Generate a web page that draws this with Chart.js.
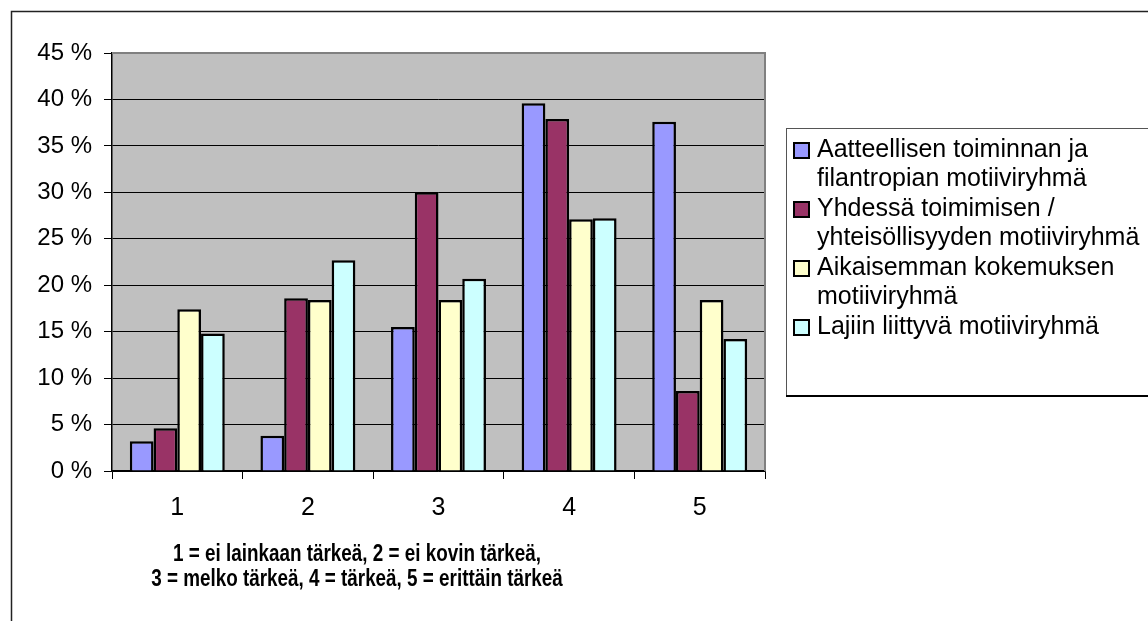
<!DOCTYPE html>
<html>
<head>
<meta charset="utf-8">
<script src="https://cdn.jsdelivr.net/npm/chart.js@4/dist/chart.umd.min.js"></script>
<style>
  html, body { margin: 0; padding: 0; background: #fff; }
  #wrap { width: 1148px; height: 621px; }
</style>
</head>
<body>
<div id="wrap"><canvas id="motiiviChart" width="1148" height="621"></canvas></div>
<script>
// data (percent)
const luokat = ['1', '2', '3', '4', '5'];
const aatteellinen = [3.2, 3.8, 15.5, 39.6, 37.6];
const yhdessa = [4.6, 18.6, 30.0, 37.9, 8.6];
const aikaisempi = [17.4, 18.4, 18.4, 27.1, 18.4];
const lajiin = [14.8, 22.7, 20.7, 27.2, 14.2];
const sarjaNimet = [
    ['Aatteellisen toiminnan ja', 'filantropian motiiviryhmä'],
    ['Yhdessä toimimisen /', 'yhteisöllisyyden motiiviryhmä'],
    ['Aikaisemman kokemuksen', 'motiiviryhmä'],
    ['Lajiin liittyvä motiiviryhmä']
];
const akseliOtsikko = ['1 = ei lainkaan tärkeä, 2 = ei kovin tärkeä,', '3 = melko tärkeä, 4 = tärkeä, 5 = erittäin tärkeä'];

const fontti = '"Liberation Sans", Arial, sans-serif';

// gray plot background + outer frame
const tausta = {
    id: 'tausta',
    beforeDraw(chart) {
        const { ctx, chartArea: a } = chart;
        ctx.save();
        ctx.fillStyle = '#fff';
        ctx.fillRect(0, 0, chart.width, chart.height);
        ctx.strokeStyle = '#222';
        ctx.lineWidth = 1.5;
        ctx.beginPath();
        ctx.moveTo(11.5, chart.height + 5);
        ctx.lineTo(11.5, 11.5);
        ctx.lineTo(chart.width + 5, 11.5);
        ctx.stroke();
        ctx.fillStyle = '#c0c0c0';
        ctx.fillRect(a.left, a.top, a.right - a.left, a.bottom - a.top);
        ctx.restore();
    },
    afterDatasetsDraw(chart) {
        const { ctx, chartArea: a } = chart;
        ctx.save();
        ctx.strokeStyle = '#808080';
        ctx.lineWidth = 2;
        ctx.beginPath();
        ctx.moveTo(a.left, a.top);
        ctx.lineTo(a.right, a.top);
        ctx.lineTo(a.right, a.bottom);
        ctx.stroke();
        ctx.restore();
    }
};

// legend box with wrapped labels and axis title
const selite = {
    id: 'selite',
    afterDraw(chart) {
        const { ctx } = chart;
        ctx.save();
        ctx.strokeStyle = '#555';
        ctx.lineWidth = 1;
        ctx.strokeRect(786.5, 128.5, 400, 267);
        ctx.strokeStyle = '#000';
        ctx.lineWidth = 2;
        ctx.beginPath();
        ctx.moveTo(786, 396);
        ctx.lineTo(chart.width + 5, 396);
        ctx.stroke();

        ctx.font = '25px ' + fontti;
        ctx.textBaseline = 'middle';
        let y = 150;
        chart.data.datasets.forEach((ds, i) => {
            ctx.fillStyle = ds.backgroundColor;
            ctx.fillRect(794, y - 7, 15, 15);
            ctx.strokeStyle = '#000';
            ctx.lineWidth = 2;
            ctx.strokeRect(794, y - 7, 15, 15);
            ctx.fillStyle = '#000';
            sarjaNimet[i].forEach((rivi, j) => {
                ctx.fillText(rivi, 817, y + j * 29);
            });
            y += sarjaNimet[i].length * 29 + 1;
        });

        // narrow bold title under the x axis
        ctx.font = 'bold 24px ' + fontti;
        const kapeus = 368 / ctx.measureText(akseliOtsikko[0]).width;
        ctx.textAlign = 'center';
        akseliOtsikko.forEach((rivi, j) => {
            ctx.save();
            ctx.translate(357, 554 + j * 25);
            ctx.scale(kapeus, 1);
            ctx.fillText(rivi, 0, 0);
            ctx.restore();
        });
        ctx.restore();
    }
};

const data = {
    labels: luokat,
    datasets: [
        { label: sarjaNimet[0].join(' '), data: aatteellinen, backgroundColor: '#9999ff' },
        { label: sarjaNimet[1].join(' '), data: yhdessa, backgroundColor: '#993366' },
        { label: sarjaNimet[2].join(' '), data: aikaisempi, backgroundColor: '#ffffcc' },
        { label: sarjaNimet[3].join(' '), data: lajiin, backgroundColor: '#ccffff' }
    ].map(ds => Object.assign(ds, {
        borderColor: '#000',
        borderWidth: 2.5,
        borderSkipped: 'start',
        categoryPercentage: 0.727,
        barPercentage: 1
    }))
};

const config = {
    type: 'bar',
    data: data,
    options: {
        responsive: false,
        animation: false,
        layout: { padding: { left: 0, top: 53, right: 383, bottom: 0 } },
        plugins: {
            legend: { display: false },
            tooltip: { enabled: false }
        },
        scales: {
            x: {
                afterFit(scale) { scale.height = 150; },
                grid: {
                    offset: true,
                    drawOnChartArea: false,
                    drawTicks: true,
                    tickLength: 8,
                    tickColor: '#000'
                },
                border: { color: '#000', width: 1.5 },
                ticks: {
                    padding: 14,
                    color: '#000',
                    font: { family: fontti, size: 25 }
                }
            },
            y: {
                min: 0,
                max: 45,
                afterFit(scale) { scale.width = 112; },
                grid: {
                    color: (c) => c.tick && c.tick.value === 45 ? '#808080' : '#000',
                    lineWidth: 1,
                    tickLength: 8,
                    tickColor: '#000'
                },
                border: { color: '#000', width: 1.5 },
                ticks: {
                    stepSize: 5,
                    padding: 12,
                    color: '#000',
                    font: { family: fontti, size: 24 },
                    callback: (val) => val + ' %'
                }
            }
        }
    },
    plugins: [tausta, selite]
};

window.motiiviChart = new Chart(document.getElementById('motiiviChart'), config);
</script>
</body>
</html>
